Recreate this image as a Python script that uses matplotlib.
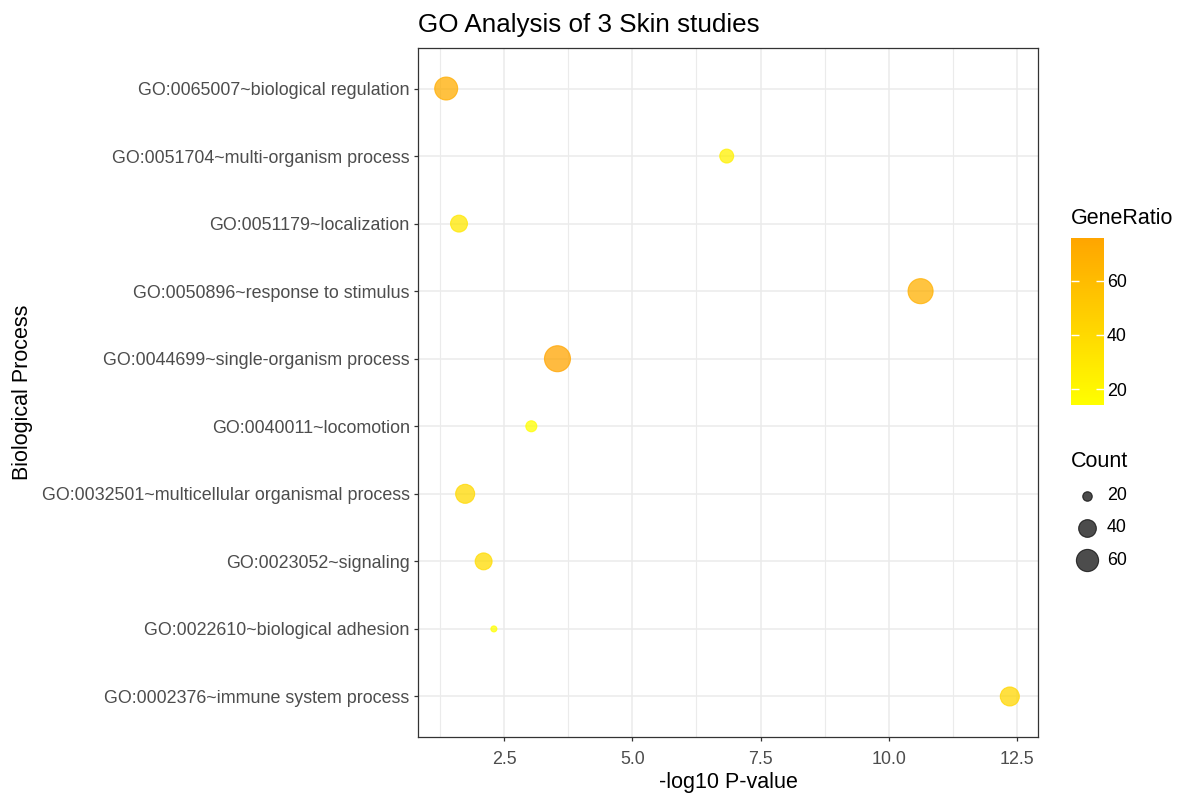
import numpy as np
import matplotlib
matplotlib.use("Agg")
import matplotlib.pyplot as plt
from matplotlib.colors import LinearSegmentedColormap
from matplotlib.ticker import MultipleLocator

# ================= DATA =================
# categories in axis order (bottom -> top)
terms = [
    "GO:0002376~immune system process",
    "GO:0022610~biological adhesion",
    "GO:0023052~signaling",
    "GO:0032501~multicellular organismal process",
    "GO:0040011~locomotion",
    "GO:0044699~single-organism process",
    "GO:0050896~response to stimulus",
    "GO:0051179~localization",
    "GO:0051704~multi-organism process",
    "GO:0065007~biological regulation",
]
neg_log_p = [12.36, 2.30, 2.10, 1.74, 3.03, 3.54, 10.62, 1.62, 6.84, 1.37]
counts = [45, 18, 37, 45, 22, 82, 76, 37, 28, 64]
gene_ratio = [42, 14.1, 38, 40, 15, 75.8, 68, 30, 24, 70]

count_breaks = [20, 40, 60]
ratio_breaks = [20, 40, 60]

# ================= STYLE =================
plt.rcParams['font.family'] = ['Liberation Sans', 'DejaVu Sans']
DPI = 100
W, H = 1189, 794

cmap = LinearSegmentedColormap.from_list("yo", ["#FFFF00", "#FFA500"])
c_lo, c_hi = min(counts), max(counts)
d_lo, d_hi = 6.0, 26.0  # point diameter range in px


def marker_area(c):
    # ggplot-like area scale: diameter grows with sqrt of rescaled value
    frac = np.clip((np.asarray(c, float) - c_lo) / (c_hi - c_lo), 0, 1)
    d_px = d_lo + (d_hi - d_lo) * np.sqrt(frac)
    return (d_px * 72.0 / DPI) ** 2


def fx(px):
    return px / W


def fy(py):
    return 1 - py / H


fig = plt.figure(figsize=(W / DPI, H / DPI), dpi=DPI)
ax = fig.add_axes([fx(418), fy(737), fx(1038) - fx(418), fy(48) - fy(737)])

ypos = np.arange(len(terms))
sc = ax.scatter(neg_log_p, ypos, s=marker_area(counts), c=gene_ratio, cmap=cmap,
                vmin=min(gene_ratio), vmax=max(gene_ratio), alpha=0.75,
                linewidths=0.8, zorder=3)
sc.set_edgecolor(cmap((np.array(gene_ratio) - min(gene_ratio)) / (max(gene_ratio) - min(gene_ratio))))

# axes ranges with ggplot-style expansion
xr = max(neg_log_p) - min(neg_log_p)
ax.set_xlim(min(neg_log_p) - 0.05 * xr, max(neg_log_p) + 0.05 * xr)
ax.set_ylim(-0.6, len(terms) - 1 + 0.6)

ax.set_yticks(ypos)
ax.set_yticklabels(terms)
ax.xaxis.set_major_locator(MultipleLocator(2.5))
ax.xaxis.set_minor_locator(MultipleLocator(1.25))
ax.xaxis.set_major_formatter(matplotlib.ticker.FormatStrFormatter('%.1f'))

ax.grid(True, which='major', color='#EBEBEB', linewidth=1.1, zorder=0)
ax.grid(True, which='minor', axis='x', color='#EBEBEB', linewidth=0.8, zorder=0)
ax.set_axisbelow(True)

ax.tick_params(axis='both', which='major', length=3, width=0.9, color='#333333',
               labelsize=12.9, labelcolor='#4D4D4D', pad=3)
ax.tick_params(axis='x', which='major', pad=7)
ax.tick_params(axis='x', which='minor', length=0)
for sp in ax.spines.values():
    sp.set_color('#333333')
    sp.set_linewidth(0.9)

ax.set_xlabel("-log10 P-value", fontsize=15.5, labelpad=3)
ax.set_ylabel("Biological Process", fontsize=15.5, labelpad=6)

fig.text(fx(418), fy(25), "GO Analysis of 3 Skin studies", fontsize=18.7,
         ha='left', va='center')

# ================= COLORBAR =================
cax = fig.add_axes([fx(1071), fy(405), fx(1104) - fx(1071), fy(238) - fy(405)])
cbar = fig.colorbar(sc, cax=cax)
cbar.solids.set_alpha(1)
cbar.outline.set_visible(False)
cbar.set_ticks(ratio_breaks)
cax.tick_params(direction='in', color='white', length=6, width=1,
                left=True, right=True, labelleft=False, labelright=True,
                labelsize=12.9, labelcolor='#000000', pad=2)
fig.text(fx(1071), fy(219), "GeneRatio", fontsize=15.5, ha='left', va='center')

# ================= SIZE LEGEND =================
handles = [ax.scatter([], [], s=marker_area(v), color='black', alpha=0.7,
                      linewidths=0.8, edgecolors='black') for v in count_breaks]
leg = fig.legend(handles, [str(v) for v in count_breaks], title="Count",
                 loc='upper left', bbox_to_anchor=(fx(1071), fy(451)),
                 frameon=False, fontsize=12.9, title_fontsize=15.5,
                 alignment='left', labelspacing=0.85, handletextpad=0.2,
                 borderaxespad=0, borderpad=0, handlelength=1.8)

fig.savefig("out.png", dpi=DPI, facecolor='white')
